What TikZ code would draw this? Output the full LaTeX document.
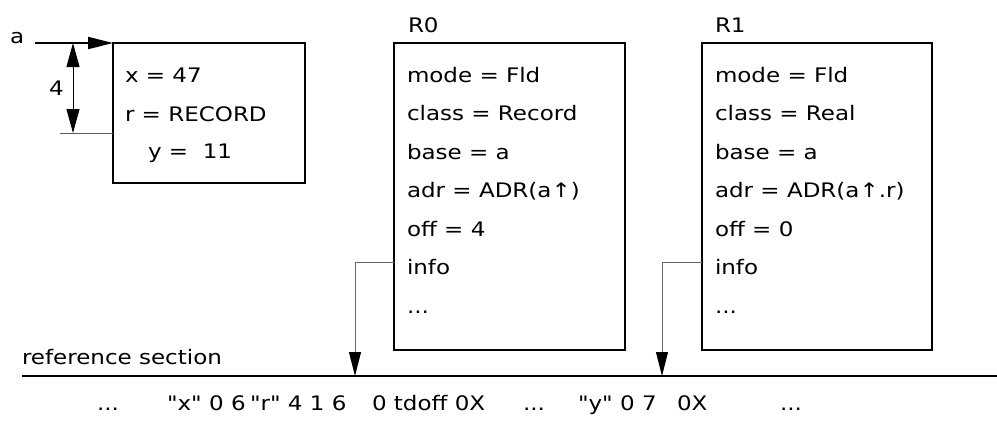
\documentclass[tikz,border=0pt]{standalone}
\usepackage{fontspec}
\setmainfont{DejaVu Sans}[FakeStretch=1.15, Ligatures=TeXOff]
\usetikzlibrary{arrows.meta}
\tikzset{
  txt/.style={inner sep=0pt, outer sep=0pt, anchor=base west, font=\fontsize{20}{24}\selectfont},
  box/.style={draw, line width=2pt, anchor=north west, inner sep=0pt, outer sep=0pt},
  bigtip/.style={-{Triangle[length=25pt,width=12pt]}},
  infoline/.style={draw=gray!80!black, line width=1pt, -{Triangle[length=24pt,width=12pt,color=black]}},
  thinline/.style={draw=gray!70!black, line width=1pt},
}
\begin{document}
\begin{tikzpicture}[x=1pt,y=-1pt]
\useasboundingbox (0,0) rectangle (997,426);
% box of a
\node[box, minimum width=192pt, minimum height=140pt] (b1) at (113,43) {};
\node[txt] (b1x) at (125,82) {x = 47};
\node[txt] (b1r) at (125,121) {r = RECORD};
\node[txt] (b1y) at (148,158) {y =\ \ 11};
% pointer a
\node[txt] (alab) at (10,43) {a};
\coordinate (astart) at (35,43);
\draw[line width=2pt, bigtip] (astart) -- (b1.north west);
% dimension 4
\coordinate (dtop) at (73,43);
\coordinate (dbot) at (73,133);
\coordinate (ext) at (60,133);
\draw[line width=1pt, {Triangle[length=24pt,width=13pt]}-{Triangle[length=24pt,width=13pt]}] (dtop) -- (dbot);
\draw[thinline] (ext) -- (ext -| b1.west);
\node[txt] (four) at (49,95) {4};
% R0
\node[txt] (r0lab) at (408,32) {R0};
\node[box, minimum width=231pt, minimum height=307pt] (r0) at (394,43) {};
\node[txt] (r0a) at (407,82) {mode = Fld};
\node[txt] (r0b) at (407,120.5) {class = Record};
\node[txt] (r0c) at (407,159) {base = a};
\node[txt] (r0d) at (407,197.5) {adr = ADR(a↑)};
\node[txt] (r0e) at (407,236) {off = 4};
\node[txt] (r0f) at (407,274.5) {info};
\node[txt] (r0g) at (407,313) {...};
% R1
\node[txt] (r1lab) at (715,32) {R1};
\node[box, minimum width=230pt, minimum height=307pt] (r1) at (702,43) {};
\node[txt] (r1a) at (715,82) {mode = Fld};
\node[txt] (r1b) at (715,120.5) {class = Real};
\node[txt] (r1c) at (715,159) {base = a};
\node[txt] (r1d) at (715,197.5) {adr = ADR(a↑.r)};
\node[txt] (r1e) at (715,236) {off = 0};
\node[txt] (r1f) at (715,274.5) {info};
\node[txt] (r1g) at (715,313) {...};
% reference section
\node[txt] (refsec) at (22,364) {reference section};
\coordinate (lineL) at (22,376);
\coordinate (lineR) at (997,376);
\draw[line width=1.2pt] (lineL) -- (lineR);
% info connectors
\coordinate (c0) at (355,262);
\coordinate (c0b) at (355,376);
\draw[infoline] (c0 -| r0.west) -- (c0) -- (c0b);
\coordinate (c1) at (662,262);
\coordinate (c1b) at (662,376);
\draw[infoline] (c1 -| r1.west) -- (c1) -- (c1b);
% bottom row
\node[txt] (s1) at (97,410) {...};
\node[txt] (s2a) at (167,410) {"x" 0 6};
\node[txt] (s2b) at (250,410) {"r" 4 1 6};
\node[txt] (s3) at (372,410) {0 tdoff 0X};
\node[txt] (s4) at (523,410) {...};
\node[txt] (s5) at (578,410) {"y" 0 7};
\node[txt] (s6) at (677,410) {0X};
\node[txt] (s7) at (780,410) {...};
\end{tikzpicture}
\end{document}
